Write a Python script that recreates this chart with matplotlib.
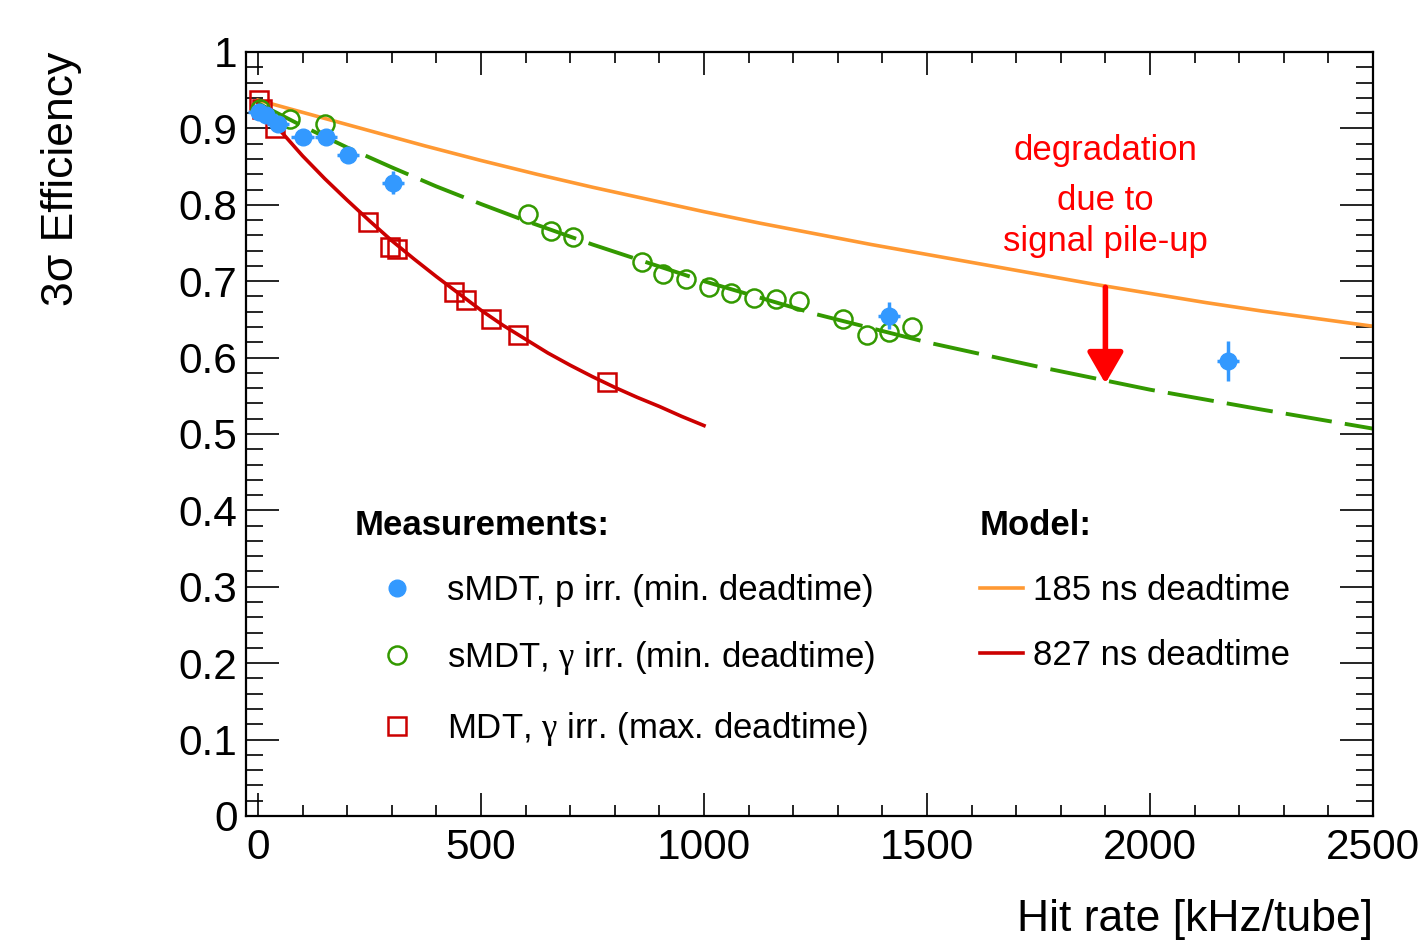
import numpy as np
import matplotlib.pyplot as plt
from matplotlib.lines import Line2D
from matplotlib.ticker import MultipleLocator

plt.rcParams['font.family'] = ['Liberation Sans', 'DejaVu Sans']
plt.rcParams['mathtext.fontset'] = 'custom'
plt.rcParams['mathtext.rm'] = 'Liberation Serif'

# measurements
p_rate = [2, 18, 45, 100, 152, 202, 303, 1415, 2175]
p_eff = [0.922, 0.918, 0.906, 0.889, 0.889, 0.865, 0.829, 0.655, 0.596]
p_err = [0.004, 0.004, 0.004, 0.004, 0.004, 0.005, 0.015, 0.018, 0.026]

g_rate = [5, 72, 150, 606, 658, 707, 860, 909, 959, 1011, 1061, 1112, 1161, 1213,
          1312, 1365, 1415, 1466]
g_eff = [0.925, 0.912, 0.906, 0.788, 0.766, 0.758, 0.725, 0.710, 0.703, 0.692, 0.685,
         0.678, 0.677, 0.674, 0.651, 0.630, 0.633, 0.640]

m_rate = [2, 10, 38, 247, 296, 312, 440, 466, 522, 584, 782]
m_eff = [0.937, 0.926, 0.900, 0.778, 0.745, 0.742, 0.686, 0.676, 0.651, 0.630, 0.568]

# model curves
orange_x = [0, 125, 250, 375, 500, 625, 750, 875, 1000, 1125, 1250, 1375, 1500,
            1625, 1750, 1875, 2000, 2125, 2250, 2375, 2500]
orange_y = [0.937, 0.917, 0.897, 0.877, 0.858, 0.840, 0.823, 0.807, 0.791, 0.776,
            0.762, 0.748, 0.735, 0.722, 0.709, 0.696, 0.684, 0.672, 0.661, 0.651, 0.641]

red_x = [0, 50, 100, 150, 200, 250, 300, 350, 400, 450, 500, 550, 600, 650, 700,
         750, 800, 850, 900, 950, 1000]
red_y = [0.933, 0.897, 0.864, 0.834, 0.806, 0.779, 0.753, 0.729, 0.706, 0.684, 0.662,
         0.642, 0.624, 0.606, 0.590, 0.575, 0.561, 0.548, 0.536, 0.523, 0.511]

green_x = [0, 100, 200, 300, 400, 500, 600, 750, 1000, 1250, 1500, 1750, 2000, 2250, 2500]
green_y = [0.933, 0.903, 0.875, 0.849, 0.824, 0.801, 0.779, 0.748, 0.700, 0.657, 0.620,
           0.588, 0.558, 0.532, 0.507]

blue = '#3399ff'
green = '#339900'
orange = '#ff9933'
red = '#cc0000'

fig = plt.figure(figsize=(14.25, 9.42), dpi=100)
ax = fig.add_axes([0.1726, 0.1338, 0.7909, 0.8110])

ax.plot(orange_x, orange_y, color=orange, lw=2.6, zorder=2)
ax.plot(red_x, red_y, color=red, lw=2.6, zorder=2)
ax.plot(green_x, green_y, color=green, lw=2.8, dashes=(12, 3.4), zorder=2)

ax.plot(m_rate, m_eff, 's', ms=12.5, mfc='none', mec=red, mew=1.8, zorder=3)
ax.plot(g_rate, g_eff, 'o', ms=13, mfc='none', mec=green, mew=1.8, zorder=3)
ax.errorbar(p_rate, p_eff, yerr=p_err, xerr=25, fmt='o', color=blue, ms=12,
            elinewidth=2.5, capsize=0, zorder=4)

# arrow + annotation
ax.annotate('', xy=(1900, 0.566), xytext=(1900, 0.692),
            arrowprops=dict(arrowstyle='-|>,head_length=0.95,head_width=0.55',
                            color='#ff0000', lw=4, mutation_scale=20,
                            shrinkA=0, shrinkB=0))
ax.text(1900, 0.871, 'degradation', color='#ff0000', fontsize=25, ha='center', va='center')
ax.text(1900, 0.806, 'due to', color='#ff0000', fontsize=25, ha='center', va='center')
ax.text(1900, 0.752, 'signal pile-up', color='#ff0000', fontsize=25, ha='center', va='center')

ax.set_xlim(-27, 2500)
ax.set_ylim(0, 1)
ax.xaxis.set_major_locator(MultipleLocator(500))
ax.xaxis.set_minor_locator(MultipleLocator(100))
ax.yaxis.set_major_locator(MultipleLocator(0.1))
ax.yaxis.set_minor_locator(MultipleLocator(0.02))
ax.set_yticks(np.arange(0, 1.01, 0.1))
ax.set_yticklabels(['0', '0.1', '0.2', '0.3', '0.4', '0.5', '0.6', '0.7', '0.8', '0.9', '1'])

ax.tick_params(which='both', direction='in', top=True, right=True, width=1.2,
               labelsize=30.5)
ax.tick_params(axis='x', which='major', length=16.5, pad=9)
ax.tick_params(axis='x', which='minor', length=8)
ax.tick_params(axis='y', which='major', length=24, pad=6)
ax.tick_params(axis='y', which='minor', length=12)
for s in ax.spines.values():
    s.set_linewidth(1.6)

ax.set_xlabel('Hit rate [kHz/tube]', fontsize=32, loc='right', labelpad=22)
ax.set_ylabel('3σ Efficiency', fontsize=32, loc='top', labelpad=70)

# legends
h_meas = [
    Line2D([], [], ls='none', marker='o', ms=12, color=blue),
    Line2D([], [], ls='none', marker='o', ms=13, mfc='none', mec=green, mew=1.8),
    Line2D([], [], ls='none', marker='s', ms=12.5, mfc='none', mec=red, mew=1.8),
]
l_meas = ['sMDT, p irr. (min. deadtime)',
          r'sMDT, $\mathrm{\gamma}$ irr. (min. deadtime)',
          r'MDT, $\mathrm{\gamma}$ irr. (max. deadtime)']
leg1 = ax.legend(h_meas, l_meas, title='Measurements:', loc='upper left',
                 bbox_to_anchor=(0.0967, 0.402), frameon=False, fontsize=25,
                 title_fontproperties={'weight': 'bold', 'size': 25},
                 alignment='left', handlelength=2.45, handletextpad=0.2,
                 labelspacing=0.93, borderpad=0, borderaxespad=0)
ax.add_artist(leg1)

h_mod = [Line2D([], [], color=orange, lw=2.6), Line2D([], [], color=red, lw=2.6)]
l_mod = ['185 ns deadtime', '827 ns deadtime']
ax.legend(h_mod, l_mod, title='Model:', loc='upper left',
          bbox_to_anchor=(0.651, 0.402), frameon=False, fontsize=25,
          title_fontproperties={'weight': 'bold', 'size': 25},
          alignment='left', handlelength=1.25, handletextpad=0.3,
          labelspacing=0.93, borderpad=0, borderaxespad=0)

fig.savefig('out.png', dpi=100)
